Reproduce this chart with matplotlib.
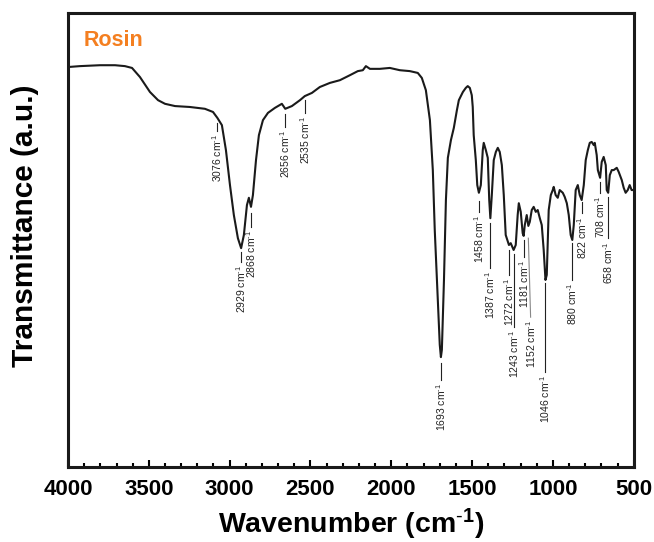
import matplotlib.pyplot as plt
from matplotlib.ticker import MultipleLocator

plt.rcParams['font.family'] = ['Liberation Sans', 'DejaVu Sans']
plt.rcParams['mathtext.default'] = 'regular'
plt.rcParams['mathtext.fontset'] = 'custom'
plt.rcParams['mathtext.rm'] = 'Liberation Sans'

# FTIR spectrum of rosin (wavenumber in cm-1, transmittance in a.u.)
wavenumber = [4000, 3926, 3802, 3709, 3648, 3604, 3555, 3493, 3443, 3400, 3338, 3246,
              3153, 3103, 3076, 3048, 3023, 2998, 2974, 2949, 2929, 2912, 2893, 2881,
              2868, 2856, 2837, 2819, 2794, 2763, 2720, 2677, 2656, 2615, 2565, 2535,
              2491, 2442, 2380, 2318, 2256, 2207, 2176, 2157, 2132, 2071, 2009, 1947,
              1885, 1836, 1811, 1786, 1761, 1743, 1731, 1712, 1700, 1693, 1687, 1674,
              1662, 1650, 1631, 1613, 1594, 1582, 1557, 1539, 1527, 1514, 1502, 1496,
              1490, 1477, 1468, 1458, 1446, 1434, 1428, 1415, 1403, 1394, 1387, 1378,
              1366, 1353, 1341, 1329, 1316, 1304, 1292, 1272, 1261, 1243, 1230, 1218,
              1211, 1199, 1187, 1181, 1174, 1162, 1152, 1143, 1131, 1119, 1106, 1094,
              1081, 1069, 1057, 1046, 1038, 1026, 1013, 1001, 995, 983, 970, 958,
              939, 927, 914, 902, 890, 880, 871, 859, 846, 834, 822, 809,
              797, 784, 772, 760, 747, 741, 729, 722, 708, 698, 686, 673,
              667, 658, 648, 636, 624, 605, 593, 574, 562, 550, 537, 525,
              513, 500]
transmittance = [88.1, 88.3, 88.5, 88.5, 88.3, 87.9, 85.9, 82.6, 80.8, 80.0, 79.5, 79.3,
                 78.9, 78.2, 76.9, 75.3, 69.8, 62.1, 55.5, 50.4, 48.2, 51.1, 57.7, 59.3,
                 57.3, 59.9, 67.6, 73.1, 76.4, 78.0, 79.1, 80.0, 78.9, 79.5, 80.8, 81.7,
                 82.4, 83.7, 84.6, 85.2, 86.3, 87.2, 87.4, 88.3, 87.7, 87.7, 87.9, 87.4,
                 87.2, 86.8, 85.7, 83.0, 76.4, 65.4, 52.2, 36.8, 26.9, 24.2, 25.8, 41.2,
                 58.8, 68.1, 72.0, 74.7, 78.6, 80.8, 82.6, 83.5, 83.9, 83.5, 81.9, 79.3,
                 73.1, 67.6, 62.1, 60.4, 62.1, 69.8, 71.4, 69.8, 68.1, 58.8, 54.8, 59.9,
                 67.6, 69.4, 70.3, 69.4, 66.5, 59.9, 51.1, 48.9, 49.3, 47.8, 48.9, 55.5,
                 58.1, 56.2, 51.5, 50.9, 53.3, 55.5, 53.1, 54.0, 56.6, 57.3, 56.2, 56.6,
                 54.8, 53.3, 47.8, 41.2, 42.3, 56.6, 59.9, 61.0, 61.7, 59.9, 59.3, 61.0,
                 60.4, 59.5, 58.1, 55.5, 51.1, 50.0, 53.3, 61.0, 62.1, 59.9, 58.8, 62.1,
                 67.6, 69.8, 71.4, 71.6, 70.9, 71.4, 68.7, 65.4, 63.7, 67.2, 68.3, 66.5,
                 61.0, 60.4, 64.3, 65.4, 65.4, 65.9, 65.0, 63.2, 61.5, 60.4, 61.0, 62.1,
                 61.0, 61.0]

# labelled bands
peaks = [3076, 2929, 2868, 2656, 2535, 1693, 1458, 1387, 1272, 1243, 1181, 1152,
         1046, 880, 822, 708, 658]
# marker line (top, bottom) and x of the text for each label
line_top = [75.8, 47.4, 55.9, 77.8, 80.8, 22.9, 58.6, 53.7, 47.8, 46.9, 50.0, 50.4,
            40.5, 49.3, 58.4, 62.8, 59.5]
line_bottom = [74.0, 45.2, 52.9, 74.9, 78.0, 19.2, 56.2, 43.8, 42.3, 30.8, 46.3, 33.0,
               20.9, 41.2, 55.9, 60.4, 50.4]
text_x = [3076, 2929, 2868, 2656, 2535, 1693, 1458, 1387, 1272, 1243, 1181, 1138,
          1046, 880, 822, 708, 658]

fig = plt.figure(figsize=(6.54, 5.42), dpi=100)
ax = fig.add_axes([0.104, 0.1384, 0.865, 0.8376])

ax.plot(wavenumber, transmittance, color='#1a1a1a', lw=1.5)

for p, yt, yb, tx in zip(peaks, line_top, line_bottom, text_x):
    c = '#888888' if tx != p else '#222222'
    ax.plot([p, tx], [yt, yb], color=c, lw=0.8)
    ax.text(tx, yb - 0.7, f'{p} cm$^{{\\text{{-}}1}}$', rotation=90, ha='center',
            va='top', fontsize=7.5, color='#222222')

ax.text(0.027, 0.927, 'Rosin', transform=ax.transAxes, color='#F47F20',
        fontsize=15.5, fontweight='bold', ha='left', va='baseline')

ax.set_xlim(4000, 500)
ax.set_ylim(0, 100)
ax.xaxis.set_major_locator(MultipleLocator(500))
ax.xaxis.set_minor_locator(MultipleLocator(100))
ax.set_yticks([])
ax.tick_params(axis='x', which='both', direction='in', top=False, width=1.5,
               labelsize=16, pad=9)
ax.tick_params(axis='x', which='major', length=5)
ax.tick_params(axis='x', which='minor', length=3)
for lab in ax.get_xticklabels():
    lab.set_fontweight('bold')
for s in ax.spines.values():
    s.set_linewidth(2.2)
    s.set_color('#1a1a1a')

ax.set_xlabel('Wavenumber (cm$^{\\text{-}1}$)', fontsize=20.5, fontweight='bold',
              va='baseline')
ax.set_ylabel('Transmittance (a.u.)', fontsize=21.5, fontweight='bold')
ax.xaxis.set_label_coords(0.5, -0.147)
ax.yaxis.set_label_coords(-0.051, 0.531)

fig.savefig('out.png', dpi=100)
